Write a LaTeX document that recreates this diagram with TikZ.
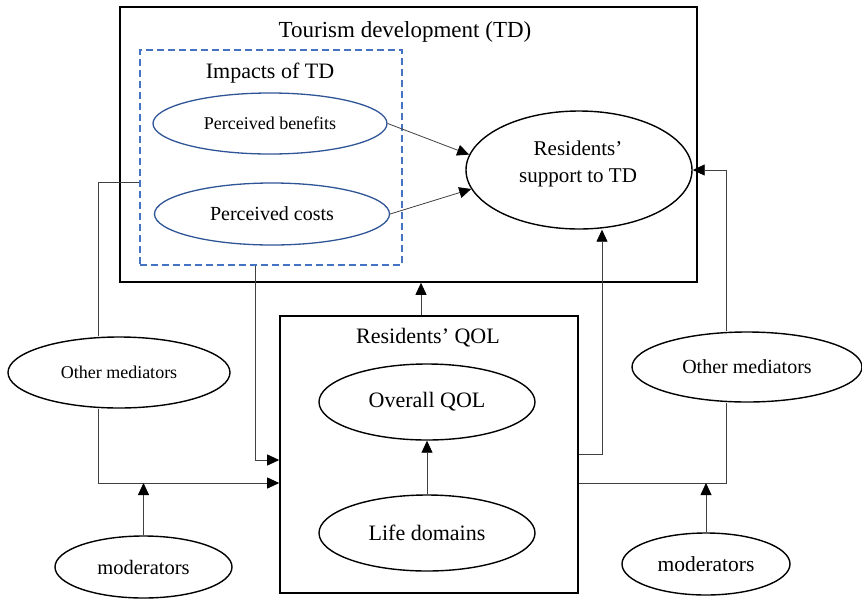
\documentclass[tikz,border=0pt]{standalone}
\usepackage{fontspec}
\setmainfont{Liberation Serif}
\usetikzlibrary{shapes.geometric, arrows.meta, positioning}
\definecolor{ovalblue}{HTML}{2F5597}
\definecolor{dashblue}{HTML}{4472C4}

\begin{document}
\begin{tikzpicture}[
						x=1pt, y=-1pt,
						oval/.style = {draw, ellipse, line width=1.4pt, inner sep=0pt},
						boval/.style = {draw=ovalblue, ellipse, line width=1.3pt, inner sep=0pt},
						frame/.style = {draw, rectangle, line width=1.6pt, inner sep=0pt},
						dframe/.style = {draw=dashblue, dashed, rectangle, line width=1.3pt, inner sep=0pt, dash pattern=on 7pt off 4pt},
						link/.style = {draw=black!75, line width=0.8pt},
						arr/.style = {link, -{Triangle[length=12pt, width=11pt, color=black]}},
						fs/.style = {font=\fontsize{#1}{#1}\selectfont}
					]
\useasboundingbox (0,0) rectangle (862,598);

% boxes
\node[frame, minimum width=577pt, minimum height=275pt] (td) at (408.5,144.5) {};
\node[dframe, minimum width=262pt, minimum height=215pt] (impacts) at (271,157.5) {};
\node[frame, minimum width=298pt, minimum height=277pt] (qol) at (429,454.5) {};

% titles
\node[fs=23] (tdtitle) at (405,32) {Tourism development (TD)};
\node[fs=22] (imptitle) at (270,73) {Impacts of TD};
\node[fs=22] (qoltitle) at (428,338) {Residents’ QOL};

% ovals
\node[boval, minimum width=234pt, minimum height=61pt, fs=18] (benefits) at (270,123.5) {Perceived benefits};
\node[boval, minimum width=235pt, minimum height=62pt, fs=20] (costs) at (272,214) {Perceived costs};
\node[oval, minimum width=226pt, minimum height=118pt] (support) at (579,170) {};
\node[fs=21, align=center] (supporttext) at (578,164) {Residents’\\[6pt]support to TD};
\node[oval, minimum width=216pt, minimum height=76pt, fs=22] (overall) at (427,402) {Overall QOL};
\node[oval, minimum width=216pt, minimum height=76pt, fs=22] (life) at (427,533) {Life domains};
\node[oval, minimum width=222pt, minimum height=71pt, fs=18] (medL) at (119,372.5) {Other mediators};
\node[oval, minimum width=230pt, minimum height=70pt, fs=20] (medR) at (747,367) {Other mediators};
\node[oval, minimum width=177pt, minimum height=62pt, fs=20.5] (modL) at (143.5,567) {moderators};
\node[oval, minimum width=168pt, minimum height=62pt, fs=21.5] (modR) at (706,564) {moderators};

\coordinate (lowL) at ([yshift=-28.5pt]qol.west);
\coordinate (lowR) at ([yshift=-28.5pt]qol.east);

% connectors
\draw[arr] (benefits.east) -- (support.172);
\draw[arr] (costs.east) -- (support.190);
\draw[arr] (life) -- (overall);
\draw[arr] ([xshift=-8pt]qol.north) -- ([xshift=-8pt]qol.north |- td.south);
\draw[link] ([yshift=-24.5pt]impacts.west) -| ([xshift=-21pt]medL.north);
\draw[arr] ([xshift=-21pt]medL.south) |- (lowL);
\draw[arr] ([xshift=-16pt]impacts.south) |- ([yshift=-5.5pt]qol.west);
\draw[arr] (modL) -- (modL |- lowL);
\draw[arr] (qol.east) -| ([xshift=23pt]support.south);
\draw[link] (lowR) -| ([xshift=-21pt]medR.south);
\draw[arr] ([xshift=-21pt]medR.north) |- (support.east);
\draw[arr] (modR) -- (modR |- lowR);
\end{tikzpicture}
\end{document}
